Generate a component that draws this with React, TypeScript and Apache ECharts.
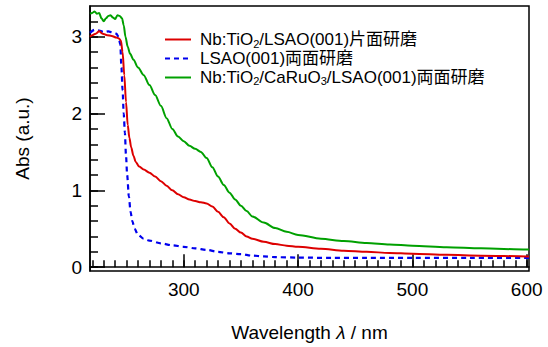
import React, { useEffect, useRef } from "react";
import * as echarts from "echarts";

const FONT = "'Liberation Sans', 'Noto Sans CJK JP', sans-serif";

const seriesNames = [
  "Nb:TiO2/LSAO(001)片面研磨",
  "LSAO(001)両面研磨",
  "Nb:TiO2/CaRuO3/LSAO(001)両面研磨",
];

const redX = [218, 220, 223, 226, 229, 233, 237, 241, 243, 245, 246.5, 248, 249.5, 251, 252.5, 254, 256, 258, 261, 265, 270, 275, 280, 285, 290, 295, 300, 305, 310, 315, 320, 325, 330, 335, 340, 345, 350, 355, 360, 370, 380, 390, 400, 420, 440, 460, 480, 500, 530, 560, 600, 602];
const redY = [3.0, 3.02, 3.04, 3.07, 3.04, 3.02, 3.01, 2.99, 2.98, 2.95, 2.8, 2.5, 2.15, 1.85, 1.68, 1.56, 1.45, 1.37, 1.31, 1.27, 1.23, 1.18, 1.12, 1.06, 1.0, 0.95, 0.91, 0.88, 0.86, 0.845, 0.83, 0.79, 0.72, 0.65, 0.57, 0.5, 0.45, 0.4, 0.37, 0.33, 0.3, 0.28, 0.265, 0.24, 0.215, 0.2, 0.185, 0.175, 0.16, 0.15, 0.14, 0.14];

const blueX = [218, 222, 226, 230, 234, 238, 241, 243, 244.5, 245.5, 246.5, 247.5, 248.5, 249.5, 250.5, 252, 253.5, 255, 257, 260, 265, 270, 280, 290, 300, 310, 320, 330, 340, 350, 360, 370, 380, 400, 430, 460, 500, 550, 600, 602];
const blueY = [3.05, 3.09, 3.08, 3.06, 3.07, 3.05, 3.04, 3.0, 2.9, 2.6, 2.3, 2.0, 1.75, 1.45, 1.2, 0.92, 0.72, 0.6, 0.5, 0.42, 0.37, 0.345, 0.31, 0.285, 0.265, 0.245, 0.225, 0.2, 0.18, 0.17, 0.15, 0.14, 0.13, 0.125, 0.12, 0.12, 0.12, 0.12, 0.12, 0.12];

const greenX = [218, 220, 222, 224, 226, 228, 230, 232, 234, 236, 238, 240, 242, 244, 246, 247.5, 249, 251, 253, 256, 260, 265, 270, 275, 280, 285, 290, 295, 300, 305, 310, 315, 320, 325, 330, 335, 340, 345, 350, 355, 360, 370, 380, 390, 400, 420, 440, 460, 480, 500, 530, 560, 600, 602];
const greenY = [3.3, 3.31, 3.33, 3.3, 3.31, 3.24, 3.2, 3.24, 3.27, 3.28, 3.25, 3.23, 3.28, 3.27, 3.24, 3.15, 3.0, 2.87, 2.78, 2.7, 2.6, 2.5, 2.37, 2.24, 2.1, 1.94, 1.8, 1.7, 1.64, 1.58, 1.54, 1.5, 1.42, 1.3, 1.18, 1.07, 0.97, 0.88, 0.8, 0.73, 0.66, 0.58, 0.51, 0.46, 0.42, 0.37, 0.34, 0.315, 0.295, 0.28, 0.26, 0.245, 0.23, 0.23];

const xMajorTicks = [300, 400, 500, 600];
const xMinorTicks = Array.from({ length: 39 }, (_, i) => 220 + i * 10);
const yMajorTicks = [0, 1, 2, 3];
const yMinorTicks = [0, 0.2, 0.4, 0.6, 0.8, 1, 1.2, 1.4, 1.6, 1.8, 2, 2.2, 2.4, 2.6, 2.8, 3, 3.2];

const X_MIN = 218;
const X_MAX = 602;
const Y_MIN = -0.05;
const Y_MAX = 3.4;

function zip(xs: number[], ys: number[]) {
  return xs.map((x, i) => [x, ys[i]]);
}

function legendLabel(name: string) {
  const parts = name.replace(/O([23])\//g, "O}{s|$1}{t|/");
  return "{t|" + parts + "}";
}

export default function App() {
  const ref = useRef<HTMLDivElement>(null);
  useEffect(() => {
    document.body.style.margin = "0";
    if (!ref.current) return;
    const chart = echarts.init(ref.current, undefined, { renderer: "svg" });
    const axisLineStyle = { color: "#000", width: 1.5 };
    chart.setOption({
      animation: false,
      textStyle: { fontFamily: FONT },
      grid: {
        left: 90,
        right: 19,
        top: 6,
        bottom: 74,
        show: true,
        borderColor: "#000",
        borderWidth: 1.5,
      },
      legend: {
        orient: "vertical",
        left: 164,
        top: 30,
        padding: 0,
        itemWidth: 26,
        itemHeight: 14,
        itemGap: 1,
        data: seriesNames,
        formatter: legendLabel,
        itemStyle: { opacity: 0 },
        textStyle: {
          color: "#000",
          fontSize: 17,
          fontFamily: FONT,
          padding: [0, 0, 0, 4],
          rich: {
            t: { fontSize: 17, lineHeight: 18, fontFamily: FONT, color: "#000" },
            s: { fontSize: 11, lineHeight: 18, fontFamily: FONT, color: "#000", padding: [8, 0, 0, 0] },
          },
        },
      },
      xAxis: [
        {
          type: "value",
          min: X_MIN,
          max: X_MAX,
          position: "bottom",
          axisLine: { show: true, lineStyle: axisLineStyle },
          axisTick: { show: true, inside: true, length: 13, customValues: xMajorTicks, lineStyle: axisLineStyle },
          axisLabel: { customValues: xMajorTicks, fontSize: 19, color: "#000", margin: 9, fontFamily: FONT },
          splitLine: { show: false },
          name: "Wavelength {i|λ} / nm",
          nameLocation: "middle",
          nameGap: 52,
          nameTextStyle: {
            fontSize: 19,
            color: "#000",
            fontFamily: FONT,
            rich: { i: { fontSize: 19, fontStyle: "italic", fontFamily: FONT, color: "#000" } },
          },
        },
        {
          type: "value",
          min: X_MIN,
          max: X_MAX,
          position: "bottom",
          axisLine: { show: false },
          axisTick: { show: true, inside: true, length: 7, customValues: xMinorTicks, lineStyle: axisLineStyle },
          axisLabel: { show: false },
          splitLine: { show: false },
        },
      ],
      yAxis: [
        {
          type: "value",
          min: Y_MIN,
          max: Y_MAX,
          position: "left",
          axisLine: { show: true, lineStyle: axisLineStyle },
          axisTick: { show: true, inside: true, length: 15, customValues: yMajorTicks, lineStyle: axisLineStyle },
          axisLabel: { customValues: yMajorTicks, fontSize: 19, color: "#000", margin: 8, fontFamily: FONT },
          splitLine: { show: false },
          name: "Abs (a.u.)",
          nameLocation: "middle",
          nameGap: 58,
          nameRotate: 90,
          nameTextStyle: { fontSize: 19, color: "#000", fontFamily: FONT },
        },
        {
          type: "value",
          min: Y_MIN,
          max: Y_MAX,
          position: "left",
          axisLine: { show: false },
          axisTick: { show: true, inside: true, length: 8, customValues: yMinorTicks, lineStyle: axisLineStyle },
          axisLabel: { show: false },
          splitLine: { show: false },
        },
      ],
      series: [
        {
          name: seriesNames[0],
          type: "line",
          data: zip(redX, redY),
          symbol: "none",
          smooth: 0.3,
          smoothMonotone: "x",
          lineStyle: { color: "#dd0000", width: 2 },
          itemStyle: { color: "#dd0000" },
          z: 3,
        },
        {
          name: seriesNames[1],
          type: "line",
          data: zip(blueX, blueY),
          symbol: "none",
          smooth: 0.3,
          smoothMonotone: "x",
          lineStyle: { color: "#0000ee", width: 2.2, type: [5, 4] },
          itemStyle: { color: "#0000ee" },
          z: 2,
        },
        {
          name: seriesNames[2],
          type: "line",
          data: zip(greenX, greenY),
          symbol: "none",
          smooth: 0.3,
          smoothMonotone: "x",
          lineStyle: { color: "#00a000", width: 2 },
          itemStyle: { color: "#00a000" },
          z: 1,
        },
      ],
    });
    return () => chart.dispose();
  }, []);
  return <div ref={ref} style={{ width: 548, height: 347 }} />;
}
